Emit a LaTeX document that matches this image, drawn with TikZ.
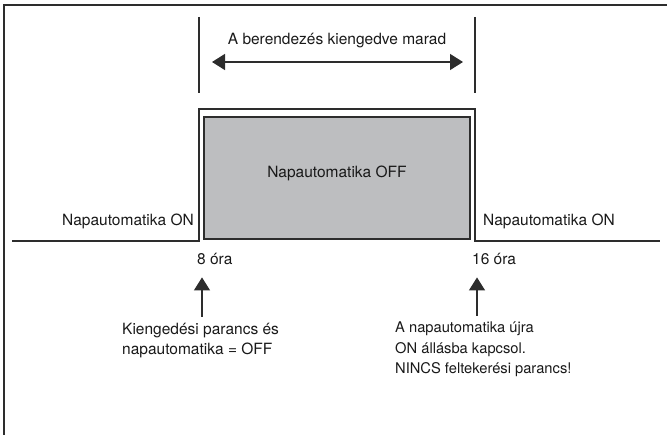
\documentclass[tikz,border=0pt]{standalone}
\usepackage{fontspec}
\setmainfont{TeX Gyre Heros}
\usetikzlibrary{arrows.meta}

\definecolor{linegray}{RGB}{45,45,45}
\definecolor{boxgray}{RGB}{189,190,192}

\begin{document}
\begin{tikzpicture}[x=1pt,y=-1pt]
    \tikzstyle{caption} = [inner sep=0pt, font=\fontsize{15.5}{20}\selectfont, text=black!90]
    \tikzstyle{sigline} = [draw=linegray, line width=1.4pt]
    \tikzstyle{offbox} = [rectangle, draw=linegray, line width=2.2pt, fill=boxgray, minimum width=266pt, minimum height=122pt, inner sep=0pt]
    \tikzstyle{bigarrow} = [draw=linegray, line width=1.4pt, >={Triangle[length=13pt,width=16pt]}]

    \useasboundingbox (0,0) rectangle (667,435);

    % frame
    \draw[sigline, line width=1.8pt] (4,435) -- (4,5) -- (667,5);

    % time span markers
    \coordinate (mL) at (199,17);
    \coordinate (mR) at (475,17);
    \draw[sigline] (mL) -- ++(0,76);
    \draw[sigline] (mR) -- ++(0,76);
    \node[caption] (span) at (337,41) {A berendezés kiengedve marad};
    \coordinate (aL) at (212,62);
    \coordinate (aR) at (463,62);
    \draw[bigarrow,<->] (aL) -- (aR);

    % signal
    \draw[sigline] (12,241) -- (199,241) -- (199,109) -- (475,109) -- (475,241) -- (660,241);
    \node[offbox] (off) at (337,178) {};
    \node[caption] (offtxt) at (337,173) {Napautomatika OFF};

    \node[caption, anchor=base east] (onL) at (194,226) {Napautomatika ON};
    \node[caption, anchor=base west] (onR) at (483,226) {Napautomatika ON};

    \node[caption, anchor=base west] (t8) at (197,265) {8 óra};
    \node[caption, anchor=base west] (t16) at (472,265) {16 óra};

    % commands
    \node[caption, align=left, anchor=north west] (cmdL) at (122,323) {Kiengedési parancs és\\napautomatika = OFF};
    \node[caption, align=left, anchor=north west, font=\fontsize{14.7}{20.5}\selectfont] (cmdR) at (395,322) {A napautomatika újra\\ON állásba kapcsol.\\NINCS feltekerési parancs!};

    \draw[bigarrow,->] ([xshift=3pt,yshift=6pt]mL |- cmdL.north) -- ([xshift=3pt,yshift=-12pt]mL |- t8.south);
    \draw[bigarrow,->] ([xshift=2pt,yshift=6pt]mR |- cmdR.north) -- ([xshift=2pt,yshift=-12pt]mR |- t16.south);
\end{tikzpicture}
\end{document}
